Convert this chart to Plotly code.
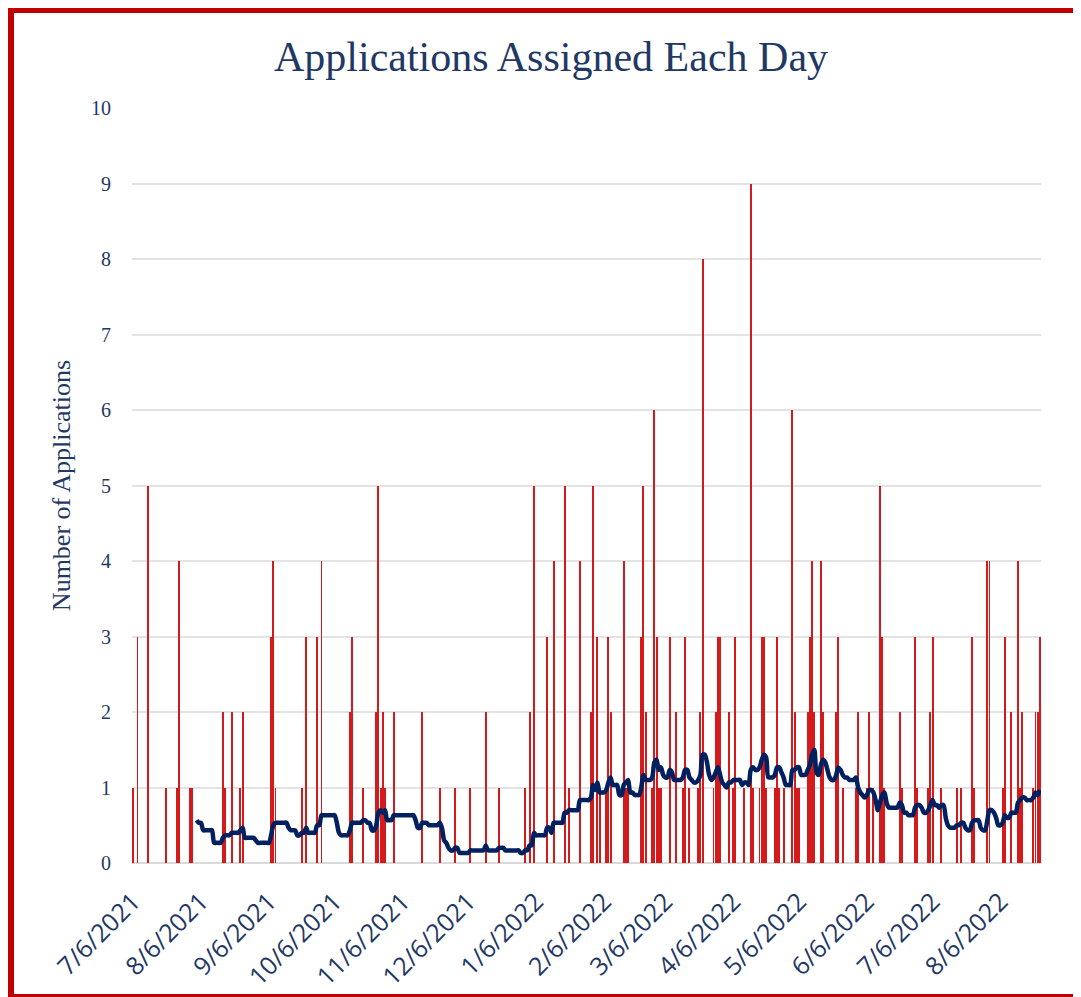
import pandas as pd
import plotly.graph_objects as go

# ---------------- data ----------------
dates = [
    "2021-07-06", "2021-07-08", "2021-07-13", "2021-07-21", "2021-07-26", "2021-07-27",
    "2021-08-01", "2021-08-02", "2021-08-16", "2021-08-17", "2021-08-20", "2021-08-24", "2021-08-25",
    "2021-09-07", "2021-09-08", "2021-09-09", "2021-09-21", "2021-09-23", "2021-09-28", "2021-09-30",
    "2021-10-13", "2021-10-14", "2021-10-19", "2021-10-25", "2021-10-26", "2021-10-27", "2021-10-28", "2021-10-29",
    "2021-11-02", "2021-11-15", "2021-11-23", "2021-11-30",
    "2021-12-07", "2021-12-14", "2021-12-20",
    "2022-01-01", "2022-01-03", "2022-01-05", "2022-01-11", "2022-01-14", "2022-01-19", "2022-01-21", "2022-01-26", "2022-01-31",
    "2022-02-01", "2022-02-03", "2022-02-04", "2022-02-07", "2022-02-08", "2022-02-09", "2022-02-15", "2022-02-16", "2022-02-17",
    "2022-02-23", "2022-02-24", "2022-02-25", "2022-02-28",
    "2022-03-01", "2022-03-02", "2022-03-03", "2022-03-04", "2022-03-08", "2022-03-11", "2022-03-14", "2022-03-15", "2022-03-17",
    "2022-03-21", "2022-03-22", "2022-03-23", "2022-03-28", "2022-03-29", "2022-03-30", "2022-03-31",
    "2022-04-04", "2022-04-06", "2022-04-07", "2022-04-11", "2022-04-14", "2022-04-15", "2022-04-18", "2022-04-19", "2022-04-20",
    "2022-04-21", "2022-04-25", "2022-04-26", "2022-04-27", "2022-04-29",
    "2022-05-03", "2022-05-04", "2022-05-05", "2022-05-06", "2022-05-10", "2022-05-11", "2022-05-12", "2022-05-13",
    "2022-05-16", "2022-05-17", "2022-05-23", "2022-05-24", "2022-05-26",
    "2022-06-01", "2022-06-02", "2022-06-06", "2022-06-07", "2022-06-09", "2022-06-12", "2022-06-13", "2022-06-14",
    "2022-06-21", "2022-06-22", "2022-06-28", "2022-06-29",
    "2022-07-04", "2022-07-05", "2022-07-06", "2022-07-10", "2022-07-17", "2022-07-19", "2022-07-24", "2022-07-25", "2022-07-31",
    "2022-08-01", "2022-08-07", "2022-08-08", "2022-08-11", "2022-08-14", "2022-08-15", "2022-08-16",
    "2022-08-21", "2022-08-22", "2022-08-23", "2022-08-24",
]
counts = [
    1, 3, 5, 1, 1, 4,
    1, 1, 2, 1, 2, 1, 2,
    3, 4, 1, 1, 3, 3, 4,
    2, 3, 1, 2, 5, 1, 2, 1,
    2, 2, 1, 1,
    1, 2, 1,
    1, 2, 5, 3, 4, 5, 1, 4, 2,
    5, 3, 1, 1, 3, 2, 4, 1, 1,
    3, 5, 2, 1,
    6, 3, 1, 1, 3, 2, 1, 3, 1,
    1, 2, 8, 1, 2, 3, 3,
    2, 1, 3, 1, 9, 1, 1, 3, 3,
    1, 1, 3, 1, 1,
    6, 2, 1, 1, 2, 3, 4, 2,
    4, 2, 2, 3, 1,
    1, 2, 1, 2, 1, 5, 3, 1,
    2, 1, 3, 1,
    1, 2, 3, 1, 1, 1, 3, 1, 4,
    4, 1, 3, 2, 4, 1, 2,
    1, 2, 2, 3,
]
tick_dates = ["2021-07-06", "2021-08-06", "2021-09-06", "2021-10-06", "2021-11-06", "2021-12-06",
              "2022-01-06", "2022-02-06", "2022-03-06", "2022-04-06", "2022-05-06", "2022-06-06",
              "2022-07-06", "2022-08-06"]
tick_labels = ["7/6/2021", "8/6/2021", "9/6/2021", "10/6/2021", "11/6/2021", "12/6/2021",
               "1/6/2022", "2/6/2022", "3/6/2022", "4/6/2022", "5/6/2022", "6/6/2022",
               "7/6/2022", "8/6/2022"]
y_ticks = list(range(0, 11))
ma_window = 30  # trailing moving average period (days)

# ---------------- derived series ----------------
s = pd.Series(counts, index=pd.to_datetime(dates))
full = s.reindex(pd.date_range(dates[0], dates[-1], freq="D"), fill_value=0)
ma = full.rolling(ma_window).mean().dropna()

# ---------------- layout geometry (figure sits at page offset 8,8) ----------------
W, H = 1073, 989
ML, MR, MT, MB = 124, 40, 100, 134
PW, PH = W - ML - MR, H - MT - MB

def px(x):
    return (x - ML) / PW

def py(y):
    return (H - MB - y) / PH

NAVY = "#1F3864"
LINE = "#002060"
RED = "#C00000"

fig = go.Figure()
fig.add_trace(go.Bar(
    x=s.index, y=s.values,
    width=0.42 * 86400000,
    marker=dict(color="#D41A1A", line=dict(width=0)),
    name="Applications",
    showlegend=False,
))
fig.add_trace(go.Scatter(
    x=ma.index, y=ma.values,
    mode="lines",
    line=dict(color=LINE, width=4.5, shape="spline", smoothing=0.8),
    name="30 per. Mov. Avg.",
    showlegend=False,
))

# red frame: thick left and top edges, thin bottom edge (drawn as lines)
frame = [
    dict(x0=px(3), x1=px(3), y0=py(0), y1=py(H), w=6),          # left
    dict(x0=px(0), x1=px(W - 1), y0=py(2.5), y1=py(2.5), w=5),  # top
    dict(x0=px(0), x1=px(W - 1), y0=py(987.5), y1=py(987.5), w=3),  # bottom
]
shapes = [dict(type="line", xref="paper", yref="paper",
               x0=f["x0"], x1=f["x1"], y0=f["y0"], y1=f["y1"],
               line=dict(color=RED, width=f["w"]), layer="above") for f in frame]

fig.update_layout(
    width=W, height=H,
    margin=dict(l=ML, r=MR, t=MT, b=MB, autoexpand=False),
    paper_bgcolor="white", plot_bgcolor="white",
    bargap=0,
    title=dict(text="Applications Assigned Each Day",
               font=dict(family="Liberation Serif", size=42, color=NAVY),
               x=543 / W, xanchor="center", y=1 - 48 / H, yanchor="middle"),
    shapes=shapes,
    xaxis=dict(
        type="date",
        range=["2021-07-05 12:00", "2022-08-24 12:00"],
        tickmode="array", tickvals=tick_dates, ticktext=tick_labels,
        tickangle=-45,
        tickfont=dict(family="Open Sans", size=25, color=NAVY),
        showgrid=False, showline=False, zeroline=False, ticks="",
        ticklabelstandoff=18,
    ),
    yaxis=dict(
        range=[0, 10], tickmode="array", tickvals=y_ticks,
        tickfont=dict(family="Liberation Serif", size=20, color=NAVY),
        showgrid=True, gridcolor="#E3E3E3", gridwidth=2,
        zeroline=True, zerolinecolor="#D9D9D9", zerolinewidth=2,
        showline=False, ticks="", ticklabelstandoff=20,
        title=dict(text="Number of Applications",
                   font=dict(family="Liberation Serif", size=26, color=NAVY),
                   standoff=12),
    ),
)

fig.write_html("out.html")
